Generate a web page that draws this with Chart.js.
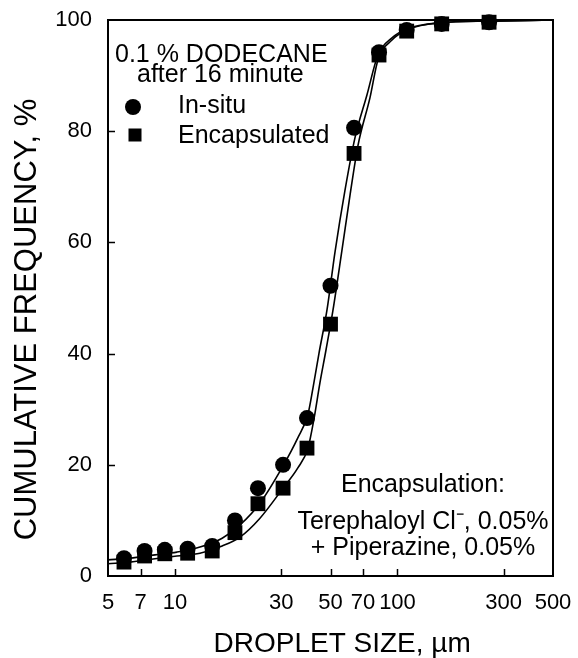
<!DOCTYPE html>
<html>
<head>
<meta charset="utf-8">
<script src="https://cdn.jsdelivr.net/npm/chart.js@4.4.0/dist/chart.umd.min.js"></script>
<style>
  body { margin: 0; background: #fff; }
  canvas { display: block; }
</style>
</head>
<body>
<canvas id="chart" width="578" height="658"></canvas>
<script>
// measured points, droplet size in µm
let dropletSize = [5.9, 7.3, 9.0, 11.4, 14.7, 18.6, 23.6, 30.6, 39.2, 50, 63.8, 82.6, 110, 158, 258];
let inSitu = [3.2, 4.5, 4.7, 4.9, 5.4, 10, 15.8, 20, 28.4, 52.2, 80.6, 94.2, 98.2, 99.3, 99.6];
let encapsulated = [2.5, 3.6, 4.0, 4.1, 4.5, 7.8, 13, 15.8, 23, 45.3, 76, 93.7, 98, 99.3, 99.6];

// fitted curves
let inSituFitSize = [5, 6.28, 8.13, 10.2, 12.95, 16.3, 19.6, 24.1, 30.6, 35.6, 39.6, 41.7, 44.4, 48.2, 52.4, 58.1, 64.4, 72.9, 81.7, 94.5, 110, 155, 261, 500];
let inSituFit = [2.9, 3.2, 3.8, 4.3, 5.2, 6.8, 9.2, 13.1, 19.8, 24.8, 29.1, 33.8, 40.1, 47.8, 58.3, 69.4, 78.8, 86.5, 93.7, 96.8, 98.4, 99.5, 99.8, 100];
let encapFitSize = [5, 6.28, 8.13, 10.2, 12.95, 16.3, 19.6, 24.1, 30.6, 35.6, 39.6, 42.2, 44.8, 47.7, 51.3, 56.3, 61.2, 66.5, 75.2, 81.7, 94.5, 110, 155, 261, 500];
let encapFit = [2.2, 2.5, 3.1, 3.6, 4.1, 5.4, 7.0, 10.4, 15.8, 19.4, 23.0, 28.4, 34.7, 40.6, 47.8, 58.6, 68.5, 77.5, 86.0, 92.8, 96.4, 98.2, 99.5, 99.8, 100];

let sizeTicks = [5, 7, 10, 30, 50, 70, 100, 300, 500];
let freqTicks = [0, 20, 40, 60, 80, 100];

const FONT = '"Liberation Sans", Arial, Helvetica, sans-serif';
Chart.defaults.font.family = FONT;
Chart.defaults.color = '#000';

function pts(xs, ys) {
  return xs.map((x, i) => ({ x: x, y: ys[i] }));
}

// box around the plot plus inward tick marks
const frame = {
  id: 'frame',
  beforeDatasetsDraw(chart) {
    const ctx = chart.ctx;
    const a = chart.chartArea;
    const xs = chart.scales.x, ys = chart.scales.y;
    ctx.save();
    ctx.strokeStyle = '#000';
    ctx.lineWidth = 2;
    ctx.strokeRect(a.left, a.top, a.right - a.left, a.bottom - a.top);
    ctx.lineWidth = 1.5;
    ctx.beginPath();
    sizeTicks.slice(1, -1).forEach(v => {
      const px = Math.round(xs.getPixelForValue(v)) + 0.5;
      ctx.moveTo(px, a.bottom);
      ctx.lineTo(px, a.bottom - 7);
    });
    freqTicks.slice(1, -1).forEach(v => {
      const py = Math.round(ys.getPixelForValue(v)) + 0.5;
      ctx.moveTo(a.left, py);
      ctx.lineTo(a.left + 7, py);
    });
    ctx.stroke();
    ctx.restore();
  }
};

// legend block (top left) and the encapsulation note (bottom right)
const notes = {
  id: 'notes',
  afterDraw(chart) {
    const ctx = chart.ctx;
    const a = chart.chartArea;
    const L = a.left, T = a.top;
    ctx.save();
    ctx.fillStyle = '#000';
    ctx.font = '25px ' + FONT;
    ctx.textBaseline = 'alphabetic';
    ctx.textAlign = 'left';
    ctx.fillText('0.1 % DODECANE', L + 7, T + 42);
    ctx.fillText('after 16 minute', L + 29, T + 62);
    ctx.fillText('In-situ', L + 70, T + 93);
    ctx.fillText('Encapsulated', L + 70, T + 123);

    ctx.beginPath();
    ctx.arc(L + 25, T + 87, 8, 0, Math.PI * 2);
    ctx.fill();
    ctx.fillRect(L + 27 - 6.5, T + 115 - 6.5, 13, 13);

    ctx.textAlign = 'center';
    const cx = L + 315;
    ctx.fillText('Encapsulation:', cx, T + 472);
    ctx.fillText('Terephaloyl Cl\u207B, 0.05%', cx, T + 509);
    ctx.fillText('+ Piperazine, 0.05%', cx, T + 535);
    ctx.restore();
  }
};

let kanvas = document.getElementById('chart');

let grafik = new Chart(kanvas, {
  type: 'scatter',
  data: {
    datasets: [{
      label: 'In-situ fit',
      data: pts(inSituFitSize, inSituFit),
      showLine: true,
      pointRadius: 0,
      borderColor: '#000',
      borderWidth: 1.6,
      cubicInterpolationMode: 'monotone',
      clip: false
    }, {
      label: 'Encapsulated fit',
      data: pts(encapFitSize, encapFit),
      showLine: true,
      pointRadius: 0,
      borderColor: '#000',
      borderWidth: 1.6,
      cubicInterpolationMode: 'monotone',
      clip: false
    }, {
      label: 'In-situ',
      data: pts(dropletSize, inSitu),
      pointStyle: 'circle',
      pointRadius: 8,
      backgroundColor: '#000',
      borderColor: '#000',
      borderWidth: 0,
      clip: false
    }, {
      label: 'Encapsulated',
      data: pts(dropletSize, encapsulated),
      pointStyle: 'rect',
      pointRadius: 10.5,
      backgroundColor: '#000',
      borderColor: '#000',
      borderWidth: 0,
      clip: false
    }]
  },
  options: {
    responsive: false,
    animation: false,
    layout: { autoPadding: false, padding: { top: 20, right: 25, left: 0, bottom: 0 } },
    plugins: {
      legend: { display: false },
      tooltip: { enabled: false }
    },
    scales: {
      x: {
        type: 'logarithmic',
        min: 5,
        max: 500,
        grid: { display: false, drawTicks: false },
        border: { display: false },
        afterBuildTicks: s => { s.ticks = sizeTicks.map(v => ({ value: v })); },
        afterFit: s => {
          s.height = 82;
          s.paddingLeft = 0;
          s.paddingRight = 0;
        },
        ticks: {
          autoSkip: false,
          maxRotation: 0,
          padding: 14,
          font: { size: 22 },
          callback: v => String(v)
        },
        title: {
          display: true,
          text: '   DROPLET SIZE, \u00B5m',
          font: { size: 28, lineHeight: 1 },
          padding: 0
        }
      },
      y: {
        min: 0,
        max: 100,
        grid: { display: false, drawTicks: false },
        border: { display: false },
        afterBuildTicks: s => { s.ticks = freqTicks.map(v => ({ value: v })); },
        afterFit: s => {
          s.width = 108;
          s.paddingTop = 0;
          s.paddingBottom = 0;
        },
        ticks: {
          padding: 16,
          font: { size: 22 }
        },
        title: {
          display: true,
          text: 'CUMULATIVE FREQUENCY, %     ',
          font: { size: 31, lineHeight: 1 },
          padding: { top: 12, bottom: 0 }
        }
      }
    }
  },
  plugins: [frame, notes]
});
</script>
</body>
</html>
